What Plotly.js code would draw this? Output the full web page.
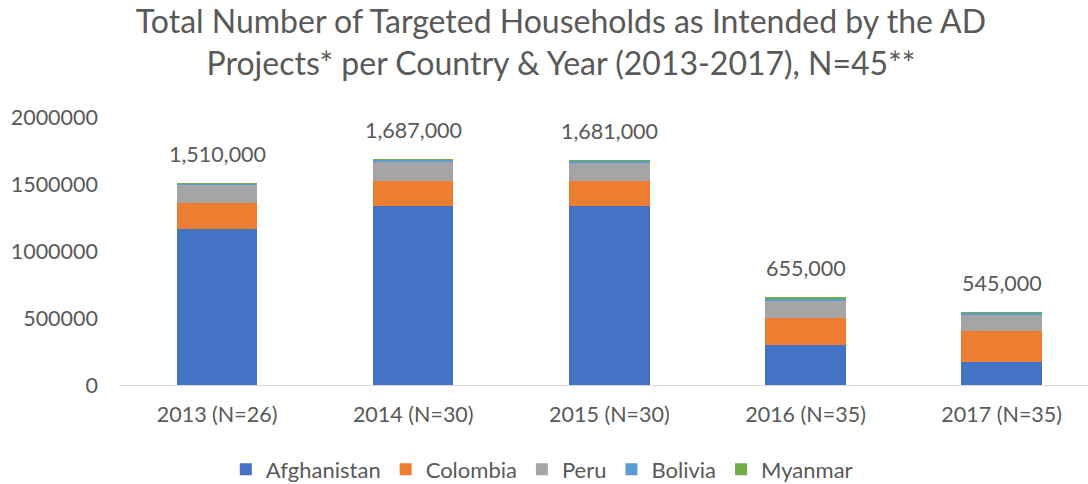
<!DOCTYPE html>
<html>
<head>
<meta charset="utf-8">
<script src="https://cdn.plot.ly/plotly-3.0.1.min.js"></script>
<style>html,body{margin:0;padding:0;background:#fff;}#chart{width:1088px;height:484px;}</style>
</head>
<body>
<div id="chart"></div>
<script>
const categories = ["2013 (N=26)", "2014 (N=30)", "2015 (N=30)", "2016 (N=35)", "2017 (N=35)"];
const afghanistan = [1165000, 1335000, 1335000, 300000, 175000];
const colombia = [195000, 190000, 187000, 200000, 230000];
const peru = [130000, 137000, 134000, 125000, 117000];
const bolivia = [12000, 15000, 15000, 18000, 13000];
const myanmar = [8000, 10000, 10000, 12000, 10000];
const totals = [1510000, 1687000, 1681000, 655000, 545000];
const totalLabels = ["1,510,000", "1,687,000", "1,681,000", "655,000", "545,000"];
const yTicks = [0, 500000, 1000000, 1500000, 2000000];

const FONT = "Lato, 'Open Sans', sans-serif";
const GREY = "#595959";

const series = [
  {name: "Afghanistan", y: afghanistan, color: "#4472C4"},
  {name: "Colombia", y: colombia, color: "#ED7D31"},
  {name: "Peru", y: peru, color: "#A5A5A5"},
  {name: "Bolivia", y: bolivia, color: "#5B9BD5"},
  {name: "Myanmar", y: myanmar, color: "#70AD47"}
];

const data = series.map(s => ({
  type: "bar",
  name: s.name,
  x: categories,
  y: s.y,
  marker: {color: s.color},
  hoverinfo: "x+y+name"
}));

const annotations = categories.map((c, i) => ({
  x: c, y: totals[i], xref: "x", yref: "y",
  text: totalLabels[i], showarrow: false,
  yanchor: "bottom", yshift: 14,
  font: {family: FONT, size: 21.5, color: GREY}
}));

const layout = {
  width: 1088, height: 484,
  paper_bgcolor: "#fff", plot_bgcolor: "#fff",
  margin: {l: 119, r: 0, t: 117, b: 99},
  barmode: "stack",
  bargap: 0.59,
  showlegend: true,
  title: {
    text: "Total Number of Targeted Households as Intended by the AD<br>Projects* per Country & Year (2013-2017), N=45**",
    xref: "container", x: 0.5156, xanchor: "center",
    yref: "container", y: 0.932, yanchor: "middle",
    font: {family: FONT, size: 32, color: GREY}
  },
  xaxis: {
    type: "category",
    range: [-0.5, 4.44],
    showgrid: false, zeroline: false,
    showline: true, linecolor: "#D9D9D9", linewidth: 1,
    ticks: "", ticklabelstandoff: 10,
    tickfont: {family: FONT, size: 21.5, color: GREY}
  },
  yaxis: {
    range: [0, 2000000],
    tickvals: yTicks,
    ticktext: yTicks.map(v => String(v)),
    showgrid: false, zeroline: false, showline: false,
    ticks: "", ticklabelstandoff: 20,
    tickfont: {family: FONT, size: 21.5, color: GREY}
  },
  legend: {
    orientation: "h", x: 0.498, xanchor: "center", xref: "container",
    y: 0.03, yref: "container", yanchor: "middle",
    traceorder: "normal",
    font: {family: FONT, size: 22, color: GREY},
    itemwidth: 30
  },
  annotations: annotations
};

Plotly.newPlot("chart", data, layout, {displayModeBar: false, staticPlot: true});
</script>
</body>
</html>
